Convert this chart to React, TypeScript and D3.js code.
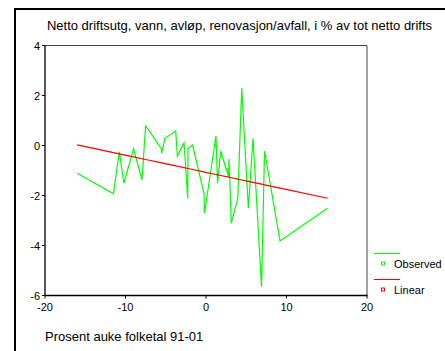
import React from "react";
import * as d3 from "d3";

const titleText = "Netto driftsutg, vann, avløp, renovasjon/avfall, i % av tot netto drifts";
const xAxisTitle = "Prosent auke folketal 91-01";
const xTicks = [-20, -10, 0, 10, 20];
const yTicks = [4, 2, 0, -2, -4, -6];
const legendLabels = ["Observed", "Linear"];

const obsX = [-16.0, -11.5, -10.77, -10.2, -9.0, -7.95, -7.5, -5.5, -5.5, -5.1, -3.76, -3.56, -2.73, -2.27, -2.24, -1.68, -0.25, -0.19, 1.24, 1.43, 1.83, 2.8, 2.86, 3.14, 3.95, 4.44, 5.26, 5.84, 6.9, 7.27, 9.2, 15.1];
const obsY = [-1.11, -1.93, -0.25, -1.51, -0.13, -1.38, 0.79, -0.15, -0.31, 0.29, 0.58, -0.43, 0.11, -2.12, -0.11, 0.02, -1.91, -2.71, 0.39, -1.51, -0.22, -1.25, -0.53, -3.11, -2.11, 2.29, -2.51, 0.29, -5.65, -0.22, -3.82, -2.51];
const fitIntercept = -1.075;
const fitSlope = -0.0686;

export default function App() {
  const left = 45, right = 367, top = 45.5, bottom = 295.5;
  const x = d3.scaleLinear().domain([-20, 20]).range([left, right]);
  const y = d3.scaleLinear().domain([-6, 4]).range([bottom, top]);
  const obs = obsX.map((v, i) => [v, obsY[i]] as [number, number]);
  const fit = obsX.map((v) => [v, fitIntercept + fitSlope * v] as [number, number]);
  const line = d3.line<[number, number]>().x((d) => x(d[0])).y((d) => y(d[1]));
  const font = "Arial, 'Liberation Sans', sans-serif";
  return (
    <div style={{ position: "fixed", left: 0, top: 0, width: 445, height: 351, background: "#fff" }}>
      <svg width={445} height={351} style={{ display: "block" }} fontFamily={font}>
        <rect x={0} y={0} width={445} height={351} fill="#fff" />
        <line x1={15} y1={9} x2={445} y2={9} stroke="#000" strokeWidth={2} />
        <line x1={15} y1={8} x2={15} y2={351} stroke="#000" strokeWidth={2} />
        <text x={239.5} y={30} textAnchor="middle" fontSize={13} fill="#000">{titleText}</text>
        <line x1={left} y1={top} x2={right} y2={top} stroke="#444" strokeWidth={1} />
        <line x1={right} y1={top} x2={right} y2={bottom} stroke="#444" strokeWidth={1} />
        <line x1={left} y1={top} x2={left} y2={bottom + 0.5} stroke="#000" strokeWidth={1.3} />
        <line x1={left} y1={bottom} x2={right + 0.5} y2={bottom} stroke="#000" strokeWidth={1.3} />
        {yTicks.map((t) => (
          <g key={"y" + t}>
            <line x1={left - 3} x2={left} y1={y(t)} y2={y(t)} stroke="#000" />
            <text x={left - 5} y={y(t) + 4} textAnchor="end" fontSize={11} fill="#000">{t}</text>
          </g>
        ))}
        {xTicks.map((t) => (
          <g key={"x" + t}>
            <line x1={x(t)} x2={x(t)} y1={bottom} y2={bottom + 3} stroke="#000" />
            <text x={x(t)} y={bottom + 15} textAnchor="middle" fontSize={11} fill="#000">{t}</text>
          </g>
        ))}
        <path d={line(obs) ?? ""} fill="none" stroke="#00ff00" strokeWidth={1.2} />
        <path d={line(fit) ?? ""} fill="none" stroke="#ff0000" strokeWidth={1.2} />
        <text x={left} y={341} fontSize={13} fill="#000">{xAxisTitle}</text>
        <line x1={374} x2={400} y1={253.5} y2={253.5} stroke="#00ff00" />
        <rect x={381.5} y={262} width={3} height={3} fill="none" stroke="#00ff00" />
        <text x={394} y={268} fontSize={11} fill="#000">{legendLabels[0]}</text>
        <line x1={374} x2={400} y1={279.5} y2={279.5} stroke="#ff0000" />
        <rect x={381.5} y={288} width={3} height={3} fill="none" stroke="#ff0000" />
        <text x={394} y={294} fontSize={11} fill="#000">{legendLabels[1]}</text>
      </svg>
    </div>
  );
}
